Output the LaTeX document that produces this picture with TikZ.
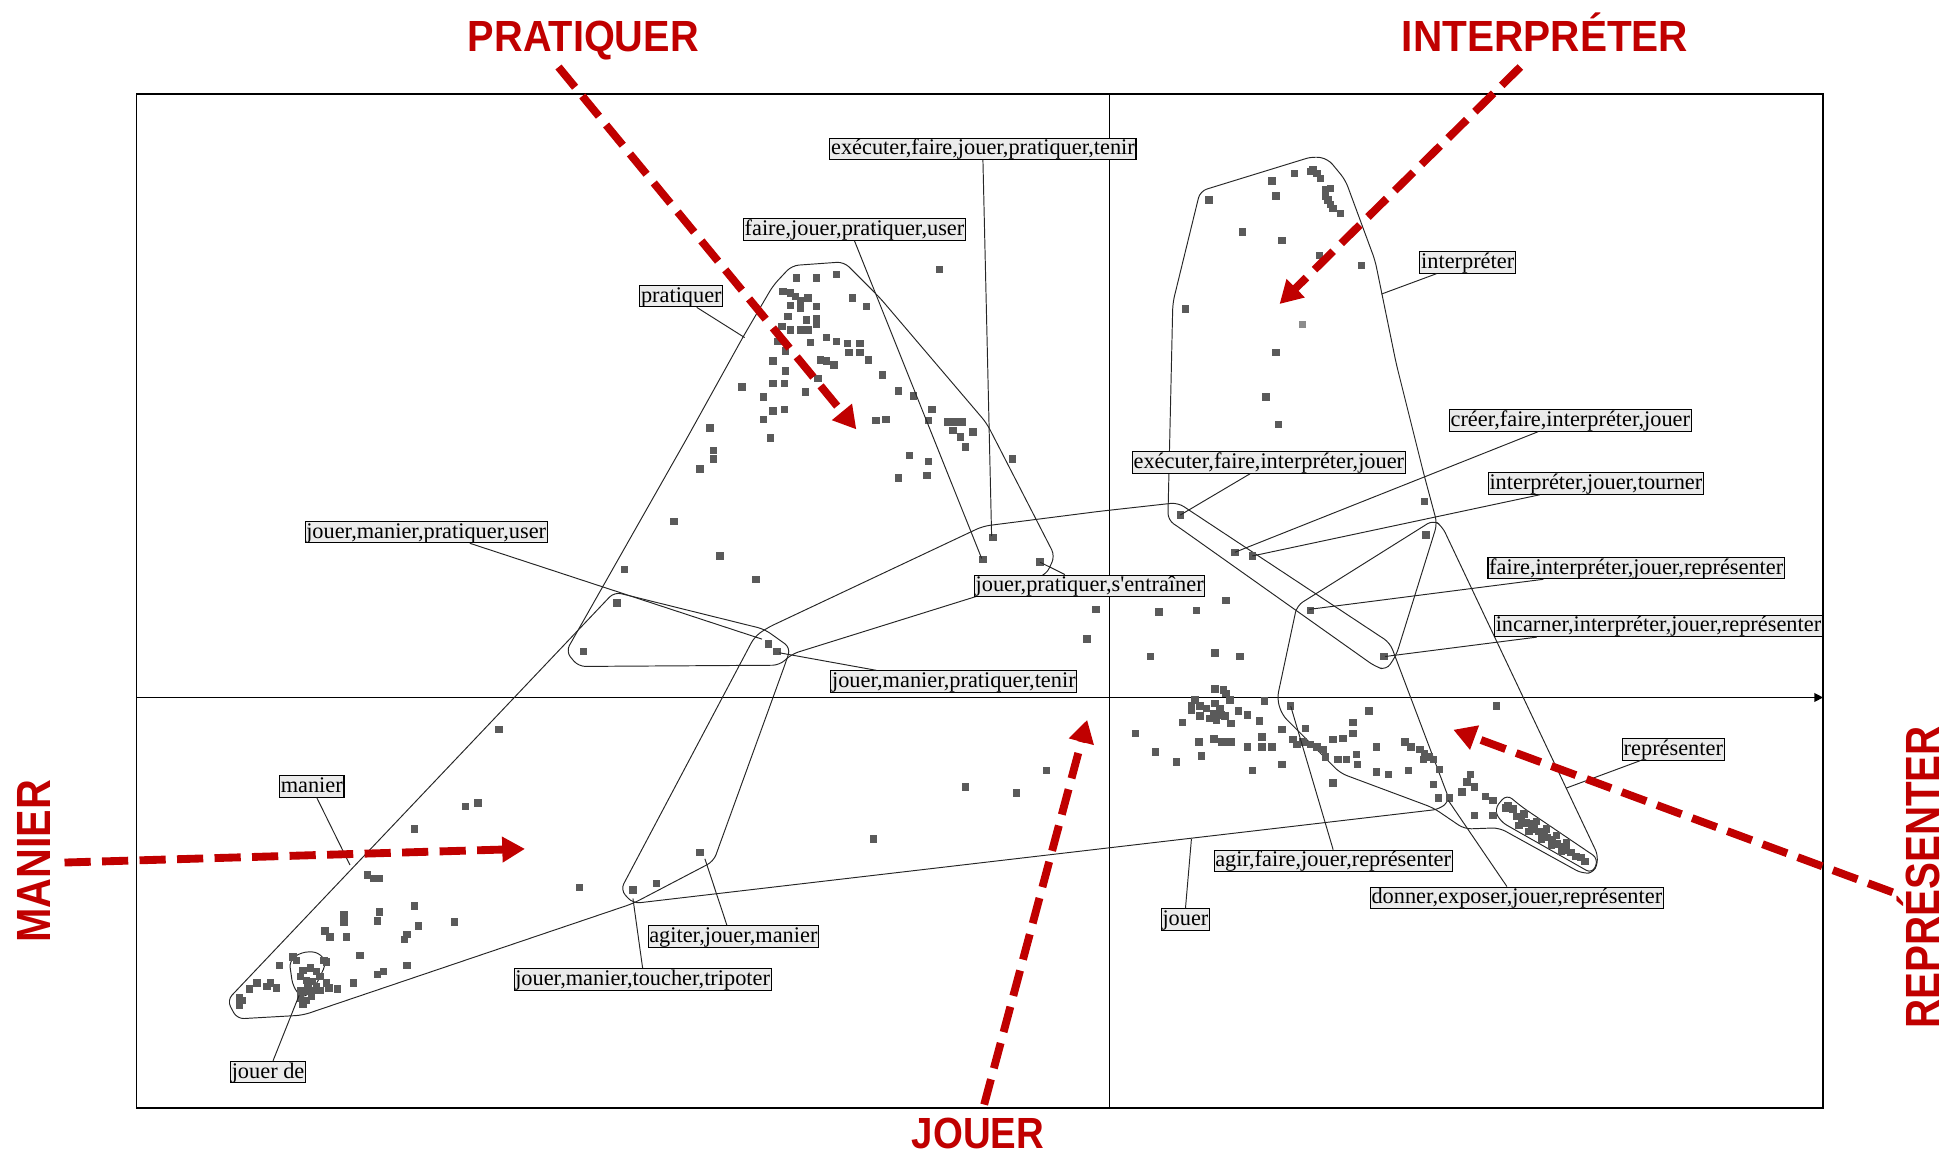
\documentclass[tikz,border=0pt]{standalone}
\usepackage{fontspec}
\setmainfont{Liberation Serif}
\newfontfamily\lblfont{Liberation Serif}
\newfontfamily\titlefont{Liberation Sans}
\usepackage{graphicx}
\usetikzlibrary{arrows.meta}
\definecolor{annotred}{RGB}{192,0,0}
\definecolor{dotgray}{RGB}{90,90,90}

\begin{document}
\begin{tikzpicture}[x=0.025cm,y=-0.025cm,
    hull/.style={draw=black!85,line width=0.55pt,rounded corners=4pt},
    leader/.style={draw=black!85,line width=0.55pt},
    lbl/.style={draw=black,line width=0.6pt,fill=black!8,inner xsep=0.7pt,inner ysep=0.3pt,
        text height=9.3pt,text depth=2.4pt,font=\lblfont\fontsize{12.8}{13}\selectfont},
    title/.style={text=annotred,inner sep=0pt,text height=17.9pt,text depth=0pt,
        font=\titlefont\bfseries\fontsize{25}{25}\selectfont},
    vtitle/.style={title,rotate=90,text height=19.7pt,
        font=\titlefont\bfseries\fontsize{27.5}{27.5}\selectfont},
    redarrow/.style={annotred,line width=4.5pt,dash pattern=on 15pt off 6.5pt,
        arrows=-{Triangle[length=13pt,width=14pt]}}]

        % \draw [help lines,step=100] (0,0) grid (1568,931);
        \useasboundingbox (0,0) rectangle (1568,931);

        \draw[line width=1.1pt] (110,76) rectangle (1469,893);
        \draw[line width=0.7pt] (894,76) -- (894,893);
        \draw[line width=0.7pt,-{Triangle[length=5pt,width=5pt]}] (110,562) -- (1469,562);

        % hulls
        \draw[hull] (456,525) -- (553,354) -- (599,271) -- (623,230) -- (638,214) -- (680,211) -- (709,240)
                -- (795,341) -- (850,448) -- (843,463) -- (638,527) -- (628,536) -- (466,537) -- cycle;
        \draw[hull] (183,806) -- (495,477) -- (616,507) -- (637,522) -- (633,534) -- (575,694) -- (510,728)
                -- (244,818) -- (191,821) -- cycle;
        \draw[hull] (500,717) -- (608,513) -- (618,506) -- (792,424) -- (886,412) -- (949,405) -- (1120,518)
                -- (1168,645) -- (1160,652) -- (510,728) -- cycle;
        \draw[hull] (941,419) -- (943,333) -- (945,244) -- (967,154) -- (1058,126) -- (1070,128) -- (1084,145)
                -- (1108,210) -- (1125,293) -- (1147,381) -- (1158,422) -- (1125,528) -- (1117,540) -- (1108,537)
                -- (950,425) -- cycle;
        \draw[hull] (1029,563) -- (1045,488) -- (1155,419) -- (1162,424) -- (1288,690) -- (1285,703) -- (1275,704)
                -- (1208,667) -- (1180,668) -- (1155,651) -- (1080,623) -- (1033,576) -- cycle;
        \draw[hull] (1204,652) -- (1214,640) -- (1226,650) -- (1288,692) -- (1283,704) -- (1209,662) -- cycle;
        \draw[hull] (233,774) -- (243,767) -- (257,767) -- (263,776) -- (254,795) -- (244,805) -- (236,795) -- cycle;

        % points
        \foreach \px/\py in {642/224,658/224,674/221,757/217,687/240,698/247,631/235,637/236,641/239,645/242,
                651/240,658/247,637/246,645/248,635/255,650/258,658/257,658/261,630/263,637/266,645/266,651/266,
                627/275,653/276,666/272,674/275,683/277,693/277,684/284,693/284,700/290,661/290,666/291,672/294,
                623/291,633/299,633/283,598/312,615/320,623/309,632/309,649/316,659/305,711/302,724/315,736/319,
                751/330,748/339,706/339,714/338,623/331,632/330,615/338,621/353,572/345,575/363,575/370,564/378,
                764/340,770/340,775/340,768/347,774/352,784/348,778/360,733/367,748/372,747/383,724/385,816/370,
                543/420,580/448,609/467,503/459,497/486,470/525,619/519,626/525,800/433,792/451,838/453,
                883/491,876/515,843/621,778/634,819/639,704/676,564/687,529/712,510/717,467/715,
                1043/140,1025/146,1028/158,974/161,1058/137,1061/140,1064/144,1056/138,1068/153,1072/152,1068/158,
                1070/161,1072/165,1074/168,1080/172,1068/156,1001/187,1033/194,1063/206,1097/214,955/249,
                1028/284,1020/320,1030/342,1148/404,1149/431,951/415,995/445,1009/448,934/493,964/492,988/484,1056/492,
                927/529,979/526,999/529,1115/529,1206/569,1019/565,1040/569,1103/573,1090/582,1090/591,1082/595,
                1074/596,1052/587,1033/588,1015/581,1017/594,1025/602,1017/602,1005/602,992/598,984/598,978/595,
                966/598,968/609,948/614,931/606,915/591,1033/616,1009/621,1042/596,1045/600,1050/598,1056/600,
                1061/602,1066/604,1068/610,1078/612,1085/612,1093/608,1094/616,1109/602,1109/622,1119/624,1135/621,
                1074/631,1132/598,1137/602,1144/604,1148/607,1152/610,1147/612,1155/612,1160/620,1155/632,1159/643,
                1168/643,1178/638,1185/624,1182/630,1188/634,1197/642,1203/645,1188/657,1203/657,1213/651,1215/649,
                979/555,986/556,988/559,963/564,967/569,972/571,979/567,983/571,978/575,975/579,980/580,987/577,
                992/583,953/582,960/572,991/564,998/573,1005/576,967/577,984/576,960/569,978/596,986/598,
                1219/652,1222/658,1226/660,1230/663,1234/664,1236/668,1240/670,1244/672,1247/675,1251/677,1255/680,
                1258/682,1262/685,1266/687,1270/690,1274/691,1277/694,1224/665,1232/670,1242/676,1250/681,1258/686,
                1228/656,1238/662,1246/668,1254/673,1262/679,
                402/588,375/650,385/647,334/668,296/705,301/708,306/708,277/737,277/743,306/735,304/742,334/730,
                337/746,366/743,328/753,326/757,262/750,266/755,279/755,290/770,225/778,236/771,239/774,261/774,
                263/775,328/778,309/783,304/785,285/792,272/797,207/792,201/797,218/792,223/796,215/795,193/804,
                193/810,195/806,244/782,250/780,255/783,242/787,247/790,252/791,258/787,263/792,242/798,247/799,
                252/798,242/804,247/806,251/803,258/798,265/796,255/795,248/795,244/809}
            \fill[dotgray] (\px-3,\py-3) rectangle (\px+3,\py+3);
        \fill[black!45] (1046.3,258.3) rectangle (1052.3,264.3);

        % leader ends
        \coordinate (pA) at (799,432);
        \coordinate (pB) at (791,450);
        \coordinate (pC) at (600,272);
        \coordinate (pD) at (614,515);
        \coordinate (pE) at (838,453);
        \coordinate (pF) at (628,526);
        \coordinate (pG) at (282,697);
        \coordinate (pH) at (241,802);
        \coordinate (pI) at (568,692);
        \coordinate (pJ) at (510,724);
        \coordinate (pK) at (960,676);
        \coordinate (pL) at (1040,569);
        \coordinate (pM) at (1167,645);
        \coordinate (pN) at (1262,635);
        \coordinate (pO) at (1116,529);
        \coordinate (pP) at (1055,491);
        \coordinate (pQ) at (1009,448);
        \coordinate (pR) at (995,445);
        \coordinate (pS) at (951,415);
        \coordinate (pT) at (1113,237);

        \path   (792,120) node (lA) [lbl] {exécuter,faire,jouer,pratiquer,tenir}
                (688.5,185) node (lB) [lbl] {faire,jouer,pratiquer,user}
                (549,238.6) node (lC) [lbl] {pratiquer}
                (343.4,428.7) node (lD) [lbl] {jouer,manier,pratiquer,user}
                (878,472) node (lE) [lbl] {jouer,pratiquer,s'entraîner}
                (768.6,549.2) node (lF) [lbl] {jouer,manier,pratiquer,tenir}
                (251.2,633.6) node (lG) [lbl] {manier}
                (216,863.8) node (lH) [lbl] {jouer de}
                (590.9,754.6) node (lI) [lbl] {agiter,jouer,manier}
                (517.8,789.1) node (lJ) [lbl] {jouer,manier,toucher,tripoter}
                (955.2,740.9) node (lK) [lbl] {jouer}
                (1074.2,693.7) node (lL) [lbl] {agir,faire,jouer,représenter}
                (1222.2,723.4) node (lM) [lbl] {donner,exposer,jouer,représenter}
                (1348.3,603.9) node (lN) [lbl] {représenter}
                (1336.3,504.3) node (lO) [lbl] {incarner,interpréter,jouer,représenter}
                (1318.4,457.7) node (lP) [lbl] {faire,interpréter,jouer,représenter}
                (1285.9,389.6) node (lQ) [lbl] {interpréter,jouer,tourner}
                (1265.3,338.8) node (lR) [lbl] {créer,faire,interpréter,jouer}
                (1022.4,372.7) node (lS) [lbl] {exécuter,faire,interpréter,jouer}
                (1182.6,211.5) node (lT) [lbl] {interpréter};

        \draw[leader] (lA.south) -- (pA);
        \draw[leader] (lB.south) -- (pB);
        \draw[leader] ([xshift=0.31cm]lC.south) -- (pC);
        \draw[leader] ([xshift=0.88cm]lD.south) -- (pD);
        \draw[leader] ([xshift=-0.5cm]lE.north) -- (pE);
        \draw[leader] ([xshift=-1.56cm]lF.north) -- (pF);
        \draw[leader] ([xshift=0.1cm]lG.south) -- (pG);
        \draw[leader] ([xshift=0.1cm]lH.north) -- (pH);
        \draw[leader] ([xshift=-0.13cm]lI.north) -- (pI);
        \draw[leader] (lJ.north) -- (pJ);
        \draw[leader] (lK.north) -- (pK);
        \draw[leader] (lL.north) -- (pL);
        \draw[leader] ([xshift=-0.2cm]lM.north) -- (pM);
        \draw[leader] ([xshift=-0.67cm]lN.south) -- (pN);
        \draw[leader] ([xshift=-2.45cm]lO.south) -- (pO);
        \draw[leader] ([xshift=-1.87cm]lP.south) -- (pP);
        \draw[leader] ([xshift=-1.13cm]lQ.south) -- (pQ);
        \draw[leader] ([xshift=-0.65cm]lR.south) -- (pR);
        \draw[leader] ([xshift=-0.38cm]lS.south) -- (pS);
        \draw[leader] ([xshift=-0.63cm]lT.south) -- (pT);

        % red annotations
        \node[title] (tPrat) at (470,29) {\scalebox{0.91}[1]{PRATIQUER}};
        \node[title] (tInterp) at (1245,29) {\scalebox{0.93}[1]{INTERPRÉTER}};
        \node[title] (tJouer) at (788,913) {\scalebox{0.88}[1]{JOUER}};
        \node[vtitle] (tManier) at (27,694) {\scalebox{0.86}[1]{MANIER}};
        \node[vtitle] (tRepr) at (1549,707) {\scalebox{0.84}[1]{REPRÉSENTER}};

        \coordinate (rP0) at (450,54);   \coordinate (rP1) at (690,346);
        \coordinate (rI0) at (1225,54);  \coordinate (rI1) at (1031,245);
        \coordinate (rM0) at (52,695);   \coordinate (rM1) at (423,684);
        \coordinate (rJ0) at (793,890);  \coordinate (rJ1) at (876,580);
        \coordinate (rR0) at (1525,719); \coordinate (rR1) at (1171,588);

        \draw[redarrow] (rP0) -- (rP1);
        \draw[redarrow] (rI0) -- (rI1);
        \draw[redarrow] (rM0) -- (rM1);
        \draw[redarrow] (rJ0) -- (rJ1);
        \draw[redarrow] (rR0) -- (rR1);

\end{tikzpicture}
\end{document}
